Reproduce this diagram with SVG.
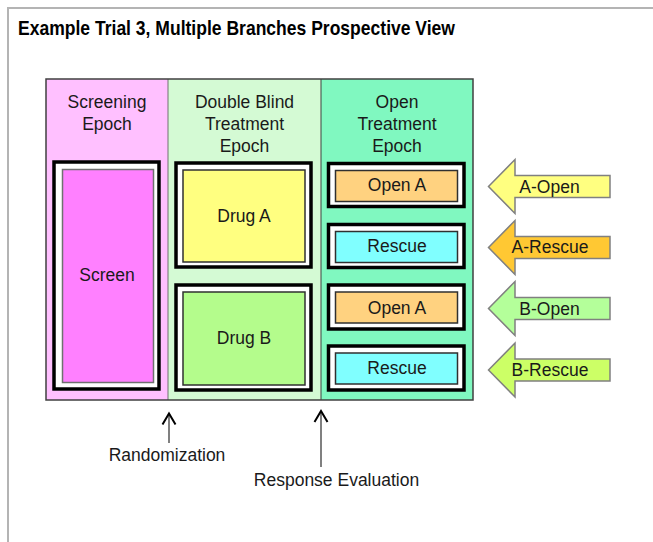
<svg xmlns="http://www.w3.org/2000/svg" width="653" height="542" viewBox="0 0 653 542">
<style>
text{font-family:"Liberation Sans",Arial,sans-serif;font-size:17.5px;fill:#1a1a1a;text-anchor:middle}
.title{font-weight:bold;font-size:20.5px;fill:#000;text-anchor:start}
.frame{fill:#fff;stroke:#000;stroke-width:3.5}
.inner{stroke:#303030;stroke-width:1.5}
.blk{stroke:#808080;stroke-width:1.5;stroke-linejoin:miter}
.shaft{stroke:#808080;stroke-width:2;fill:none}
.head{stroke:#000;stroke-width:2;fill:none}
</style>
<rect width="653" height="542" fill="#fff"/>
<path d="M8,542 V8 H653" fill="none" stroke="#b4b4b4" stroke-width="2"/>
<text class="title" x="18" y="35" textLength="437" lengthAdjust="spacingAndGlyphs">Example Trial 3, Multiple Branches Prospective View</text>

<g id="epochs">
<rect x="46" y="79" width="122" height="321" fill="#ffc0ff"/>
<rect x="168" y="79" width="153" height="321" fill="#d4fad4"/>
<rect x="321" y="79" width="152" height="321" fill="#80f8c0"/>
<line x1="168" y1="79" x2="168" y2="400" stroke="#707070" stroke-width="1"/>
<line x1="321" y1="79" x2="321" y2="400" stroke="#404040" stroke-width="1"/>
<rect x="46" y="79" width="427" height="321" fill="none" stroke="#404040" stroke-width="1.5"/>
<text x="107" y="108">Screening</text>
<text x="107" y="130">Epoch</text>
<text x="244.5" y="108">Double Blind</text>
<text x="244.5" y="130">Treatment</text>
<text x="244.5" y="152">Epoch</text>
<text x="397" y="108">Open</text>
<text x="397" y="130">Treatment</text>
<text x="397" y="152">Epoch</text>
</g>

<g id="screen">
<rect class="frame" x="54" y="162" width="105" height="227"/>
<rect x="62.5" y="169.5" width="91" height="213" fill="#ff80ff" stroke="#707070" stroke-width="1.5"/>
<text x="107" y="281">Screen</text>
</g>

<g id="drugA">
<rect class="frame" x="176" y="163" width="135" height="104"/>
<rect class="inner" x="183" y="170" width="122" height="92" fill="#ffff80"/>
<text x="244" y="222">Drug A</text>
</g>

<g id="drugB">
<rect class="frame" x="176" y="285" width="135" height="105"/>
<rect class="inner" x="183" y="292" width="122" height="93" fill="#b4fc8c"/>
<text x="244" y="343.5">Drug B</text>
</g>

<g id="openA1">
<rect class="frame" x="328.5" y="163.5" width="135.5" height="43"/>
<rect class="inner" x="335.5" y="170.5" width="122" height="31" fill="#ffd280"/>
<text x="397" y="191">Open A</text>
</g>

<g id="rescue1">
<rect class="frame" x="328.5" y="224.5" width="135.5" height="43"/>
<rect class="inner" x="335.5" y="231.5" width="122" height="31" fill="#80ffff"/>
<text x="397" y="251.5">Rescue</text>
</g>

<g id="openA2">
<rect class="frame" x="328.5" y="285" width="135.5" height="44"/>
<rect class="inner" x="335.5" y="292" width="122" height="31" fill="#ffd280"/>
<text x="397" y="313.5">Open A</text>
</g>

<g id="rescue2">
<rect class="frame" x="328.5" y="346" width="135.5" height="44"/>
<rect class="inner" x="335.5" y="353" width="122" height="31" fill="#80ffff"/>
<text x="397" y="374">Rescue</text>
</g>

<g id="arrowAOpen">
<polygon class="blk" fill="#ffff80" points="488.5,186.5 515,159.5 515,175.5 610,175.5 610,197.5 515,197.5 515,213.5"/>
<text x="549.5" y="193">A-Open</text>
</g>
<g id="arrowARescue">
<polygon class="blk" fill="#ffc833" points="488.5,247.5 515,220.5 515,236.5 610,236.5 610,258.5 515,258.5 515,274.5"/>
<text x="550" y="253">A-Rescue</text>
</g>
<g id="arrowBOpen">
<polygon class="blk" fill="#b4ff9a" points="488.5,308.5 515,281.5 515,297.5 610,297.5 610,319.5 515,319.5 515,335.5"/>
<text x="549.5" y="315">B-Open</text>
</g>
<g id="arrowBRescue">
<polygon class="blk" fill="#ccff66" points="488.5,370 515,343 515,359 610,359 610,381 515,381 515,397"/>
<text x="550" y="376">B-Rescue</text>
</g>

<g id="connectors">
<line class="shaft" x1="169" y1="443" x2="169" y2="414"/>
<polyline class="head" points="162.5,424.5 169,413.5 175.5,424.5"/>
<line class="shaft" x1="321" y1="467" x2="321" y2="411"/>
<polyline class="head" points="314.5,422 321,411 327.5,422"/>
</g>

<g id="labels">
<text x="167" y="461">Randomization</text>
<text x="336.5" y="486">Response Evaluation</text>
</g>
</svg>
